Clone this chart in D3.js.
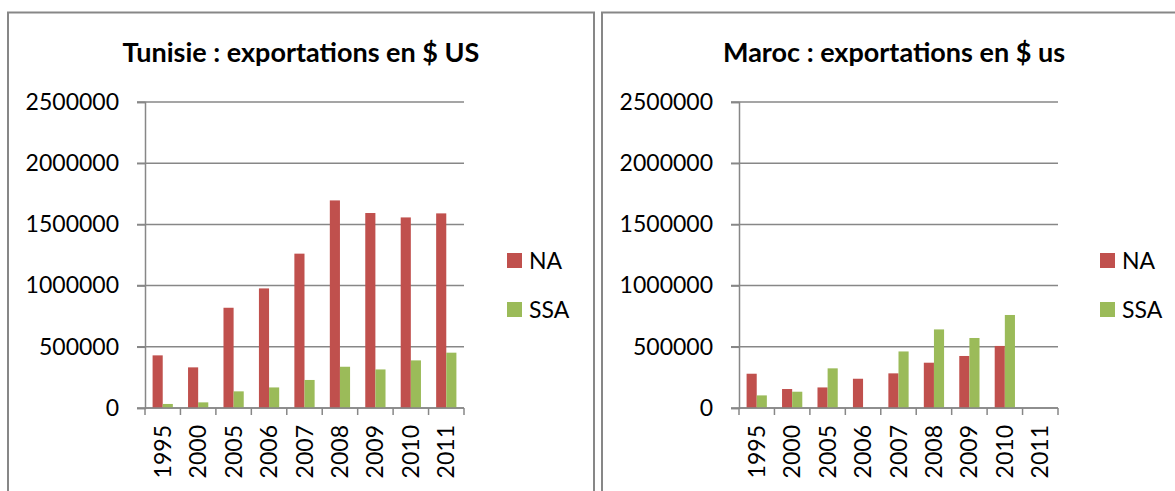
<!DOCTYPE html>
<html>
<head>
<meta charset="utf-8">
<script src="https://cdn.jsdelivr.net/npm/d3@7"></script>
<style>
  body { margin: 0; background: #fff; }
  svg { display: block; font-family: Lato, "Open Sans", sans-serif; }
</style>
</head>
<body>
<div id="chart"></div>
<script>
const years = ['1995', '2000', '2005', '2006', '2007', '2008', '2009', '2010', '2011'];
const series = ['NA', 'SSA'];
const yTicks = [0, 500000, 1000000, 1500000, 2000000, 2500000];

// Tunisie
const tunNA = [430000, 332000, 819000, 977000, 1261000, 1696000, 1593000, 1557000, 1590000];
const tunSSA = [33000, 46000, 136000, 168000, 229000, 337000, 315000, 389000, 452000];

// Maroc
const marNA = [280000, 155000, 168000, 239000, 283000, 370000, 425000, 507000, null];
const marSSA = [103000, 133000, 324000, null, 462000, 642000, 572000, 760000, null];

const chartWidth = 1175;
const chartHeight = 491;
const colors = {NA: '#C0504D', SSA: '#9BBB59'};
const gridColor = '#878787';

const svg = d3.select('#chart')
    .append('svg')
    .attr('width', chartWidth)
    .attr('height', chartHeight);

function drawChart(opts) {
    const g = svg.append('g');

    // outer frame
    g.append('rect')
        .attr('x', opts.frameX)
        .attr('y', 12.5)
        .attr('width', opts.frameW)
        .attr('height', 520)
        .attr('fill', 'none')
        .attr('stroke', gridColor)
        .attr('stroke-width', 2);

    g.append('text')
        .attr('x', opts.frameX + opts.frameW / 2 + opts.titleShift)
        .attr('y', 62)
        .attr('text-anchor', 'middle')
        .attr('font-size', 27)
        .attr('font-weight', 'bold')
        .text(opts.title);

    const xScale = d3.scaleBand()
        .domain(years)
        .range([opts.left, opts.left + 319]);

    const xSub = d3.scaleBand()
        .domain(series)
        .range([0, xScale.bandwidth()])
        .paddingOuter(0.75);

    const yScale = d3.scaleLinear()
        .domain([0, 2500000])
        .range([408, 102]);

    // gridlines
    g.selectAll('.grid')
        .data(yTicks)
        .enter()
        .append('line')
        .attr('x1', opts.left - 8)
        .attr('x2', opts.left + 319)
        .attr('y1', d => yScale(d))
        .attr('y2', d => yScale(d))
        .attr('stroke', gridColor)
        .attr('stroke-width', 1.5);

    // bars
    const rows = years.map((y, i) => ({year: y, NA: opts.na[i], SSA: opts.ssa[i]}));
    g.selectAll('.grp')
        .data(rows)
        .enter()
        .append('g')
        .attr('transform', d => `translate(${xScale(d.year)},0)`)
        .selectAll('rect')
        .data(d => series.map(s => ({key: s, value: d[s]})).filter(e => e.value != null))
        .enter()
        .append('rect')
        .attr('x', d => xSub(d.key))
        .attr('width', xSub.bandwidth())
        .attr('y', d => yScale(d.value))
        .attr('height', d => yScale(0) - yScale(d.value))
        .attr('fill', d => colors[d.key]);

    // y axis
    const yAxis = g.append('g')
        .attr('transform', `translate(${opts.left},0)`)
        .call(d3.axisLeft(yScale).tickValues(yTicks).tickFormat(d3.format('d')).tickSize(8).tickPadding(18));
    yAxis.select('.domain').attr('stroke', gridColor).attr('stroke-width', 1.5);
    yAxis.selectAll('.tick line').attr('stroke', gridColor).attr('stroke-width', 1.5);
    yAxis.selectAll('.tick text')
        .attr('font-size', 23)
        .attr('font-family', 'Lato, sans-serif')
        .attr('fill', '#000');

    // x axis line and boundary ticks
    g.append('line')
        .attr('x1', opts.left)
        .attr('x2', opts.left + 319)
        .attr('y1', yScale(0))
        .attr('y2', yScale(0))
        .attr('stroke', gridColor)
        .attr('stroke-width', 1.5);

    const bounds = years.map(y => xScale(y)).concat([xScale.range()[1]]);
    g.selectAll('.xtick')
        .data(bounds)
        .enter()
        .append('line')
        .attr('x1', d => d)
        .attr('x2', d => d)
        .attr('y1', yScale(0))
        .attr('y2', yScale(0) + 7)
        .attr('stroke', gridColor)
        .attr('stroke-width', 1.5);

    g.selectAll('.xlabel')
        .data(years)
        .enter()
        .append('text')
        .attr('transform', d => `translate(${xScale(d) + xScale.bandwidth() / 2},425) rotate(-90)`)
        .attr('text-anchor', 'end')
        .attr('dy', '0.35em')
        .attr('font-size', 23)
        .text(d => d);

    // legend
    const legend = g.selectAll('.legend')
        .data(series)
        .enter()
        .append('g')
        .attr('transform', (d, i) => `translate(${opts.legendX},${253 + i * 49})`);
    legend.append('rect')
        .attr('width', 15)
        .attr('height', 15)
        .attr('fill', d => colors[d]);
    legend.append('text')
        .attr('x', 22)
        .attr('y', 8)
        .attr('dy', '0.35em')
        .attr('font-size', 23)
        .text(d => d);
}

drawChart({
    title: 'Tunisie : exportations en $ US',
    frameX: 8, frameW: 586, titleShift: 0,
    left: 145, legendX: 507,
    na: tunNA, ssa: tunSSA
});

drawChart({
    title: 'Maroc : exportations en $ us',
    frameX: 602, frameW: 580, titleShift: 2,
    left: 739, legendX: 1100,
    na: marNA, ssa: marSSA
});
</script>
</body>
</html>
